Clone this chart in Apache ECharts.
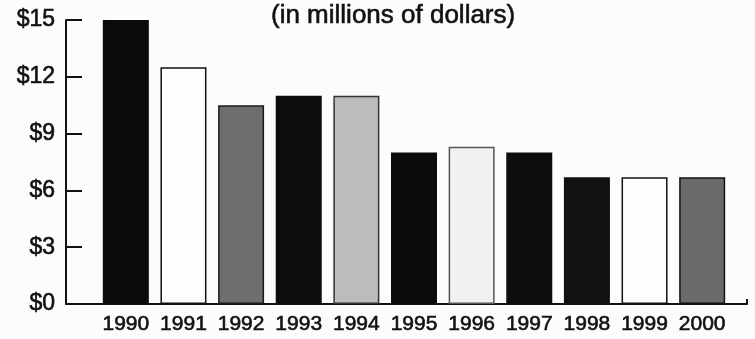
<!DOCTYPE html>
<html>
<head>
<meta charset="utf-8">
<script src="https://cdn.jsdelivr.net/npm/echarts@6/dist/echarts.min.js"></script>
<style>
  html, body { margin: 0; padding: 0; background: #fcfcfc; }
  #chart { width: 755px; height: 339px; }
</style>
</head>
<body>
<div id="chart"></div>
<script>
// Annual amounts, in millions of dollars
const years = ['1990', '1991', '1992', '1993', '1994', '1995', '1996', '1997', '1998', '1999', '2000'];
const amounts = [15, 12.5, 10.5, 11, 11, 8, 8.3, 8, 6.7, 6.7, 6.7];
const yTicks = [0, 3, 6, 9, 12, 15];

// Fill and outline for each bar, in year order
const barFills = ['#0b0b0b', '#fdfdfd', '#6e6e6e', '#0d0d0d', '#bcbcbc', '#0b0b0b',
                  '#f1f1f1', '#0d0d0d', '#111111', '#fdfdfd', '#6a6a6a'];
const barEdges = ['#0b0b0b', '#111111', '#1a1a1a', '#0d0d0d', '#333333', '#0b0b0b',
                  '#555555', '#0d0d0d', '#111111', '#111111', '#111111'];

const FONT = '"Liberation Sans", Arial, Helvetica, sans-serif';
const INK = '#111111';
// slight outline thickens the glyphs a little
const heavy = { textBorderColor: INK, textBorderWidth: 0.6 };

const chart = echarts.init(document.getElementById('chart'), null, { renderer: 'canvas' });

chart.setOption({
  backgroundColor: '#fcfcfc',
  animation: false,
  title: {
    text: '(in millions of dollars)',
    left: 271,
    top: 3,
    padding: 0,
    textStyle: Object.assign({ fontFamily: FONT, fontSize: 26, fontWeight: 'normal', color: INK }, heavy)
  },
  grid: [
    // frame: the two axis lines
    { left: 66, right: 8, top: 20, bottom: 35 },
    // bars
    { left: 97, right: 24, top: 20, bottom: 35 }
  ],
  xAxis: [
    {
      gridIndex: 0,
      type: 'value',
      min: 0,
      max: 1,
      interval: 1,
      axisLine: { show: true, lineStyle: { color: INK, width: 2 } },
      axisTick: { show: true, inside: true, length: 5, lineStyle: { color: INK, width: 2 } },
      axisLabel: { show: false },
      splitLine: { show: false }
    },
    {
      gridIndex: 1,
      type: 'category',
      data: years,
      axisLine: { show: false },
      axisTick: { show: false },
      axisLabel: Object.assign({ fontFamily: FONT, fontSize: 21, color: INK, margin: 10, interval: 0 }, heavy),
      splitLine: { show: false }
    }
  ],
  yAxis: [
    {
      gridIndex: 0,
      type: 'value',
      min: yTicks[0],
      max: yTicks[yTicks.length - 1],
      interval: yTicks[1] - yTicks[0],
      axisLine: { show: true, lineStyle: { color: INK, width: 2 } },
      axisTick: { show: true, inside: true, length: 16, lineStyle: { color: INK, width: 2 } },
      axisLabel: Object.assign({
        fontFamily: FONT, fontSize: 23, color: INK, margin: 11,
        formatter: v => '$' + v
      }, heavy),
      splitLine: { show: false }
    },
    {
      gridIndex: 1,
      type: 'value',
      min: yTicks[0],
      max: yTicks[yTicks.length - 1],
      interval: yTicks[1] - yTicks[0],
      show: false,
      splitLine: { show: false }
    }
  ],
  series: [
    {
      type: 'bar',
      xAxisIndex: 1,
      yAxisIndex: 1,
      barWidth: 46,
      data: amounts.map((v, i) => ({
        value: v,
        itemStyle: { color: barFills[i], borderColor: barEdges[i], borderWidth: 1.5 }
      }))
    }
  ]
});
</script>
</body>
</html>
